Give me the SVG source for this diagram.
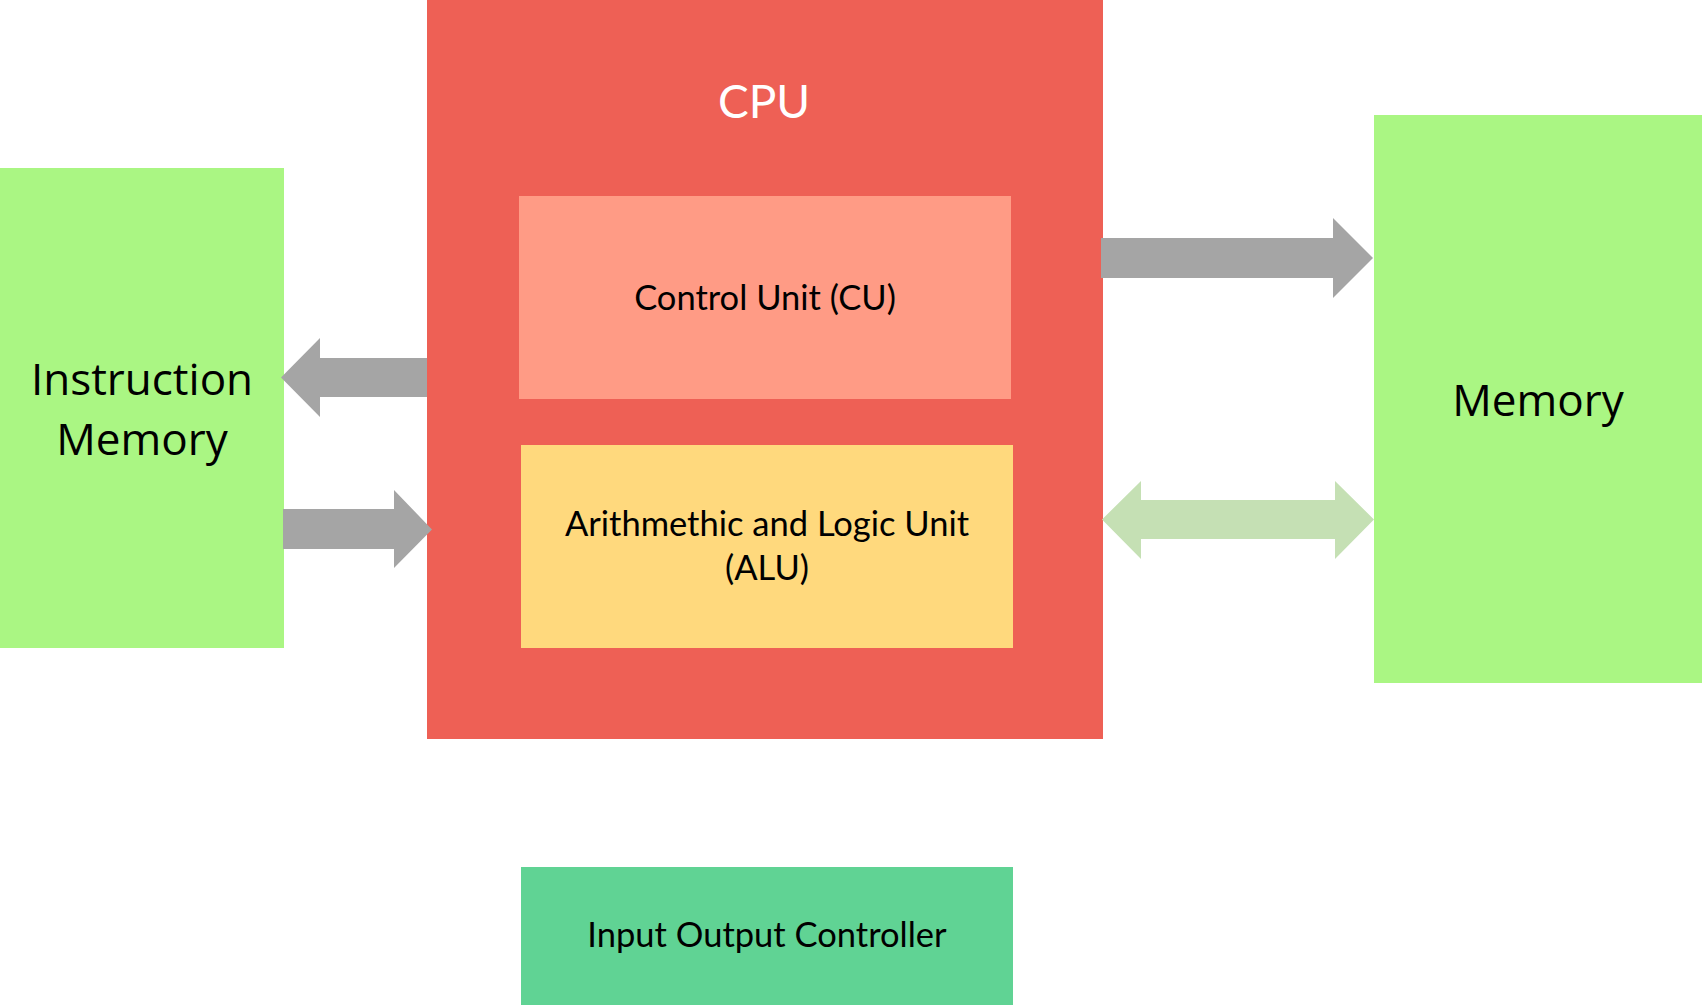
<svg xmlns="http://www.w3.org/2000/svg" width="1702" height="1005" viewBox="0 0 1702 1005">
<style>
.lbl{font-family:Lato,"Liberation Sans",sans-serif;fill:#000;text-anchor:middle}
.mem{font-family:"Open Sans","Noto Sans",sans-serif;fill:#000;text-anchor:middle;font-size:44px}
.gray{fill:#A5A5A5}
.lgreen{fill:#C5E0B4}
</style>
<rect width="1702" height="1005" fill="#fff"/>
<g id="instruction-memory">
<rect x="0" y="168" width="284" height="480" fill="#AAF683"/>
<text class="mem" x="142" y="395">Instruction</text>
<text class="mem" x="142" y="455">Memory</text>
</g>
<g id="memory">
<rect x="1374" y="115" width="328" height="568" fill="#AAF683"/>
<text class="mem" x="1538" y="416">Memory</text>
</g>
<g id="connectors-back">
<polygon class="gray" points="427,358 320,358 320,338 281,377.5 320,417 320,397 427,397"/>
</g>
<g id="cpu">
<rect x="427" y="0" width="676" height="739" fill="#EE6055"/>
<text class="lbl" x="764" y="118" font-size="46" style="fill:#fff">CPU</text>
</g>
<g id="control-unit">
<rect x="519" y="196" width="492" height="203" fill="#FF9B85"/>
<text class="lbl" x="765" y="310" font-size="34.5">Control Unit (CU)</text>
</g>
<g id="alu">
<rect x="521" y="445" width="492" height="203" fill="#FFD97D"/>
<text class="lbl" x="767" y="536" font-size="34.5">Arithmethic and Logic Unit</text>
<text class="lbl" x="767" y="580" font-size="34.5">(ALU)</text>
</g>
<g id="io-controller">
<rect x="521" y="867" width="492" height="138" fill="#60D394"/>
<text class="lbl" x="767" y="947" font-size="34.5">Input Output Controller</text>
</g>
<g id="connectors">
<polygon class="gray" points="283,509 394,509 394,490 432,529.5 394,568 394,549 283,549"/>
<polygon class="gray" points="1101,238 1333,238 1333,218 1373,258 1333,298 1333,278 1101,278"/>
<polygon class="lgreen" points="1102,519.5 1141,481 1141,500 1335,500 1335,481 1374,519.5 1335,559 1335,539 1141,539 1141,559"/>
</g>
</svg>
